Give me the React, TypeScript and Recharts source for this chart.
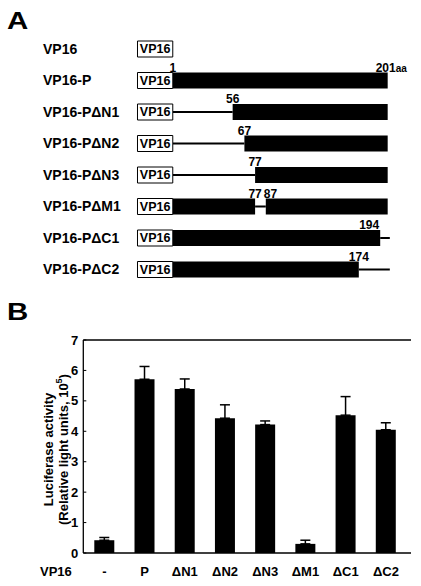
import React from "react";
import {
  ComposedChart, BarChart, Bar, XAxis, YAxis, ErrorBar, LabelList, ReferenceLine,
} from "recharts";

const FONT = "'Liberation Sans', Arial, Helvetica, sans-serif";

// Panel A: construct map, positions in amino acids of the P fragment
const constructs = ["VP16", "VP16-P", "VP16-PΔN1", "VP16-PΔN2", "VP16-PΔN3", "VP16-PΔM1", "VP16-PΔC1", "VP16-PΔC2"];
const tagSpan: [number, number] = [-33, 0];
const blockA: ([number, number] | null)[] = [null, [0, 201], [56, 201], [67, 201], [77, 201], [0, 77], [0, 194], [0, 174]];
const blockB: ([number, number] | null)[] = [null, null, null, null, null, [87, 201], null, null];
const linkers: ([number, number] | null)[] = [null, null, [0, 56], [0, 67], [0, 77], [77, 87], [194, 203], [174, 203]];
const startMarks = ["", "1", "56", "67", "77", "", "", ""];
const endMarks = ["", "201aa", "", "", "", "77", "194", "174"];
const gapMarks = ["", "", "", "", "", "87", "", ""];

// Panel B: luciferase activity (x10^5 RLU)
const groups = ["-", "P", "ΔN1", "ΔN2", "ΔN3", "ΔM1", "ΔC1", "ΔC2"];
const activity = [0.42, 5.71, 5.39, 4.43, 4.22, 0.3, 4.53, 4.05];
const activityErr = [0.09, 0.42, 0.33, 0.44, 0.12, 0.12, 0.61, 0.23];
const activityTicks = [0, 1, 2, 3, 4, 5, 6, 7];

const mapData = constructs.map((name, i) => ({
  name,
  tag: tagSpan,
  tagText: "VP16",
  a: blockA[i],
  b: blockB[i],
  link: linkers[i],
  start: startMarks[i],
  end: endMarks[i],
  gap: gapMarks[i],
}));

const barData = groups.map((name, i) => ({
  name,
  value: activity[i],
  err: [0, activityErr[i]],
}));

const numStyle = { fontSize: 12, fontWeight: 700, fill: "#000" };

// eslint-disable-next-line @typescript-eslint/no-explicit-any
const box = (p: any) => {
  const vb = p.viewBox ?? p;
  return { x: vb.x as number, y: vb.y as number, w: vb.width as number };
};

// eslint-disable-next-line @typescript-eslint/no-explicit-any
const startMark = (p: any) => {
  if (!p.value) return null;
  const { x, y } = box(p);
  return <text x={x} y={y - 1} textAnchor="middle" {...numStyle}>{p.value}</text>;
};

// eslint-disable-next-line @typescript-eslint/no-explicit-any
const endMark = (p: any) => {
  if (!p.value) return null;
  const { x, y, w } = box(p);
  const v = String(p.value);
  if (v.endsWith("aa")) {
    return (
      <text x={x + w - 12} y={y - 1} textAnchor="start" {...numStyle}>
        {v.slice(0, -2)}<tspan fontSize={10}>aa</tspan>
      </text>
    );
  }
  const split = blockB[p.index] != null;
  return (
    <text x={split ? x + w - 1 : x + w} y={y - 1} textAnchor={split ? "end" : "middle"} {...numStyle}>{v}</text>
  );
};

// eslint-disable-next-line @typescript-eslint/no-explicit-any
const gapMark = (p: any) => {
  if (!p.value) return null;
  const { x, y } = box(p);
  return <text x={x - 2} y={y - 1} textAnchor="start" {...numStyle}>{p.value}</text>;
};

// eslint-disable-next-line @typescript-eslint/no-explicit-any
const RowLabel = (p: any) => (
  <text x={43} y={p.y} dy="0.36em" textAnchor="start" fontSize={14} fontWeight={700} fill="#000">
    {p.payload.value}
  </text>
);

// eslint-disable-next-line @typescript-eslint/no-explicit-any
const YTitle = (p: any) => {
  const vb = p.viewBox;
  const cy = vb.y + vb.height / 2 + 3;
  return (
    <g fontSize={13} fontWeight={700} fill="#000">
      <text x={48} y={cy} transform={`rotate(-90 48 ${cy})`} textAnchor="middle" dominantBaseline="central">
        Luciferase activity
      </text>
      <text x={63} y={cy} transform={`rotate(-90 63 ${cy})`} textAnchor="middle" dominantBaseline="central">
        (Relative light units, 10<tspan dy={-4} fontSize={9}>5</tspan><tspan dy={4}>)</tspan>
      </text>
    </g>
  );
};

// eslint-disable-next-line @typescript-eslint/no-explicit-any
const RowTitle = (p: any) => (
  <text x={40} y={p.viewBox.y + 18.5} dominantBaseline="central" fontSize={13} fontWeight={700} fill="#000">
    VP16
  </text>
);

const letter = (top: number): React.CSSProperties => ({
  position: "absolute", left: 7, top, fontSize: 23, lineHeight: "23px",
  fontWeight: 700, color: "#000", transform: "scaleX(1.28)", transformOrigin: "left top",
});

export default function App() {
  return (
    <div style={{ position: "absolute", left: 0, top: 0, width: 421, height: 586, background: "#fff", fontFamily: FONT }}>
      <div style={letter(10)}>A</div>
      <div style={letter(301)}>B</div>

      <div style={{ position: "absolute", left: 0, top: 0 }}>
        <ComposedChart layout="vertical" width={421} height={290} data={mapData}
          margin={{ top: 33, right: 13, bottom: 5, left: 0 }}>
          <XAxis type="number" domain={[-40, 220]} allowDataOverflow hide />
          <YAxis yAxisId="tag" type="category" dataKey="name" width={130} interval={0}
            axisLine={false} tickLine={false} tick={<RowLabel />} />
          <YAxis yAxisId="a" type="category" dataKey="name" hide />
          <YAxis yAxisId="b" type="category" dataKey="name" hide />
          <YAxis yAxisId="link" type="category" dataKey="name" hide />
          <Bar yAxisId="link" dataKey="link" barSize={2} fill="#000" isAnimationActive={false} />
          <Bar yAxisId="a" dataKey="a" barSize={16} fill="#000" isAnimationActive={false}>
            <LabelList dataKey="start" content={startMark} />
            <LabelList dataKey="end" content={endMark} />
          </Bar>
          <Bar yAxisId="b" dataKey="b" barSize={16} fill="#000" isAnimationActive={false}>
            <LabelList dataKey="gap" content={gapMark} />
          </Bar>
          <Bar yAxisId="tag" dataKey="tag" barSize={16} fill="#fff" stroke="#000" strokeWidth={1}
            isAnimationActive={false}>
            <LabelList dataKey="tagText" position="center" fontSize={12.5} fontWeight={700} fill="#000" />
          </Bar>
        </ComposedChart>
      </div>

      <div style={{ position: "absolute", left: 0, top: 330 }}>
        <BarChart width={421} height={256} data={barData} margin={{ top: 10, right: 10, bottom: 3, left: 0 }}>
          <XAxis dataKey="name" interval={0} padding={{ left: 1, right: 5 }} height={30}
            tickLine={false} tickSize={0} tickMargin={14}
            axisLine={{ stroke: "#000", strokeWidth: 1.3 }}
            tick={{ fill: "#000", fontSize: 13, fontWeight: 700 }}
            label={RowTitle} />
          <YAxis domain={[0, 7]} ticks={activityTicks} width={83.3} tickSize={-3} tickMargin={8}
            axisLine={{ stroke: "#000", strokeWidth: 1.3 }} tickLine={{ stroke: "#000" }}
            tick={{ fill: "#000", fontSize: 13, fontWeight: 700 }}
            label={YTitle} />
          <YAxis yAxisId="frame" orientation="right" domain={[0, 7]} width={0}
            tick={false} tickLine={false} axisLine={{ stroke: "#000", strokeWidth: 1.3 }} />
          <ReferenceLine y={7} stroke="#000" strokeWidth={1.3} />
          <Bar dataKey="value" fill="#000" barSize={20} isAnimationActive={false}>
            <ErrorBar dataKey="err" width={5} stroke="#000" strokeWidth={1.5} direction="y" />
          </Bar>
        </BarChart>
      </div>
    </div>
  );
}
